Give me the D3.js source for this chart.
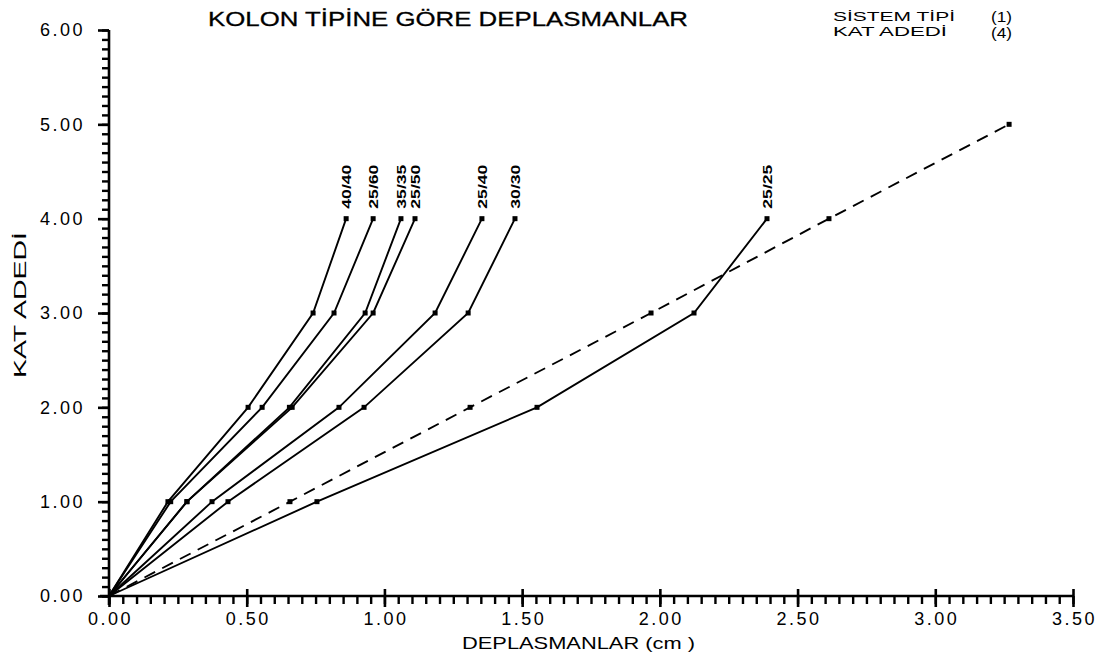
<!DOCTYPE html>
<html>
<head>
<meta charset="utf-8">
<script src="https://cdn.jsdelivr.net/npm/d3@7"></script>
<style>
  html, body { margin: 0; padding: 0; background: #fff; }
  svg { display: block; }
  text { font-family: "Liberation Sans", Arial, sans-serif; fill: #000; }
</style>
</head>
<body>
<svg id="chart" width="1103" height="661"></svg>
<script>
// ---- data ----
const levels = [0, 1, 2, 3, 4];
const columnTypes = ["40/40", "25/60", "35/35", "25/50", "25/40", "30/30", "25/25"];
const d4040 = [0, 0.214, 0.505, 0.741, 0.861];
const d2560 = [0, 0.224, 0.556, 0.817, 0.959];
const d3535 = [0, 0.283, 0.655, 0.930, 1.060];
const d2550 = [0, 0.283, 0.665, 0.959, 1.111];
const d2540 = [0, 0.374, 0.835, 1.184, 1.354];
const d3030 = [0, 0.432, 0.926, 1.304, 1.474];
const d2525 = [0, 0.755, 1.554, 2.124, 2.389];
const dashedLevels = [0, 1, 2, 3, 4, 5];
const dashedValues = [0, 0.657, 1.311, 1.968, 2.614, 3.268];
const xMajorTicks = [0, 0.5, 1, 1.5, 2, 2.5, 3, 3.5];
const yMajorTicks = [0, 1, 2, 3, 4, 5, 6];
const xMinorTickCount = 70;
const yMinorTickCount = 60;
const titleText = "KOLON TİPİNE GÖRE DEPLASMANLAR";
const xTitle = "DEPLASMANLAR (cm  )";
const yTitle = "KAT ADEDİ";
const infoLabels = ["SİSTEM TİPİ", "KAT ADEDİ"];
const infoValues = ["(1)", "(4)"];

const solidSeries = [d4040, d2560, d3535, d2550, d2540, d3030, d2525];

// ---- chart ----
const svg = d3.select("#chart");
svg.append("rect").attr("width", 1103).attr("height", 661).attr("fill", "#fff");

const xs = d3.scaleLinear().domain([0, 3.5]).range([109, 1073]);
const ys = d3.scaleLinear().domain([0, 6]).range([596, 30]);
const fmt = d3.format(".2f");
const ox = xs(0), oy = ys(0);

function styleAxis(g, w) {
  g.select(".domain").remove();
  g.selectAll("line").attr("stroke", "#000").attr("stroke-width", w);
  return g;
}
const yMinorVals = [];
for (let i = 0; i <= yMinorTickCount; i++) yMinorVals.push(i / 10);
const xMinorVals = [];
for (let i = 0; i <= xMinorTickCount; i++) xMinorVals.push(i / 20);

// Minor ticks
styleAxis(svg.append("g").attr("transform", "translate(" + ox + ",0)")
  .call(d3.axisLeft(ys).tickValues(yMinorVals).tickSize(7).tickFormat(() => "")), 2.4);
styleAxis(svg.append("g").attr("transform", "translate(0," + oy + ")")
  .call(d3.axisBottom(xs).tickValues(xMinorVals).tickSize(8).tickFormat(() => "")), 2.4);

// Major ticks + labels
const yAxisG = svg.append("g").attr("transform", "translate(" + ox + ",0)")
  .call(d3.axisLeft(ys).tickValues(yMajorTicks).tickSize(11).tickPadding(13).tickFormat(fmt));
styleAxis(yAxisG, 2.6);
yAxisG.selectAll("text").attr("font-size", 18).attr("letter-spacing", "2.5px")
  .attr("fill", "#000").style("font-family", "'Liberation Sans', Arial, sans-serif");

const xAxisG = svg.append("g").attr("transform", "translate(0," + oy + ")")
  .call(d3.axisBottom(xs).tickValues(xMajorTicks).tickSize(11).tickPadding(5).tickFormat(fmt));
styleAxis(xAxisG, 2.6);
xAxisG.selectAll("line").attr("y1", -7);
xAxisG.selectAll("text").attr("font-size", 18).attr("letter-spacing", "2.5px").attr("dx", "1px")
  .attr("fill", "#000").style("font-family", "'Liberation Sans', Arial, sans-serif");

// Axis lines
svg.append("path").attr("d", "M" + ox + "," + ys(6) + "V" + (oy + 9))
  .attr("stroke", "#000").attr("stroke-width", 2.6).attr("fill", "none");
svg.append("path").attr("d", "M" + (ox - 9) + "," + oy + "H" + xs(3.5))
  .attr("stroke", "#000").attr("stroke-width", 2.6).attr("fill", "none");

// Lines
const lineGen = d3.line().x(d => xs(d[0])).y(d => ys(d[1]));

solidSeries.forEach((vals, i) => {
  const pts = vals.map((v, j) => [v, levels[j]]);
  svg.append("path").attr("d", lineGen(pts))
    .attr("fill", "none").attr("stroke", "#000").attr("stroke-width", 1.9);
  svg.selectAll(null).data(pts.slice(1)).enter().append("rect")
    .attr("x", d => xs(d[0]) - 2.5).attr("y", d => ys(d[1]) - 2.5)
    .attr("width", 5).attr("height", 5).attr("fill", "#000");
  const top = pts[pts.length - 1];
  svg.append("text")
    .attr("transform", "translate(" + (xs(top[0]) + 1) + "," + (ys(top[1]) - 10) + ") rotate(-90)")
    .attr("dy", "0.36em")
    .attr("font-size", 12).attr("font-weight", "bold")
    .attr("textLength", 44).attr("lengthAdjust", "spacingAndGlyphs")
    .text(columnTypes[i]);
});

const dPts = dashedValues.map((v, j) => [v, dashedLevels[j]]);
svg.append("path").attr("d", lineGen(dPts))
  .attr("fill", "none").attr("stroke", "#000").attr("stroke-width", 1.9)
  .attr("stroke-dasharray", "12,8");
svg.selectAll(null).data(dPts.slice(1)).enter().append("rect")
  .attr("x", d => xs(d[0]) - 2.5).attr("y", d => ys(d[1]) - 2.5)
  .attr("width", 5).attr("height", 5).attr("fill", "#000");

// Titles
svg.append("text").attr("x", 208).attr("y", 26).attr("font-size", 21)
  .attr("stroke", "#000").attr("stroke-width", 0.3)
  .attr("textLength", 480).attr("lengthAdjust", "spacingAndGlyphs").text(titleText);

svg.append("text").attr("x", 462).attr("y", 649).attr("font-size", 17)
  .attr("textLength", 233).attr("lengthAdjust", "spacingAndGlyphs").text(xTitle);

svg.append("text").attr("transform", "translate(26,378) rotate(-90)").attr("font-size", 17)
  .attr("textLength", 146).attr("lengthAdjust", "spacingAndGlyphs").text(yTitle);

svg.append("text").attr("x", 833).attr("y", 21).attr("font-size", 13)
  .attr("textLength", 122).attr("lengthAdjust", "spacingAndGlyphs").text(infoLabels[0]);
svg.append("text").attr("x", 833).attr("y", 36).attr("font-size", 13)
  .attr("textLength", 114).attr("lengthAdjust", "spacingAndGlyphs").text(infoLabels[1]);
svg.append("text").attr("x", 991).attr("y", 22).attr("font-size", 14)
  .attr("textLength", 21).attr("lengthAdjust", "spacingAndGlyphs").text(infoValues[0]);
svg.append("text").attr("x", 991).attr("y", 38).attr("font-size", 14)
  .attr("textLength", 21).attr("lengthAdjust", "spacingAndGlyphs").text(infoValues[1]);
</script>
</body>
</html>
